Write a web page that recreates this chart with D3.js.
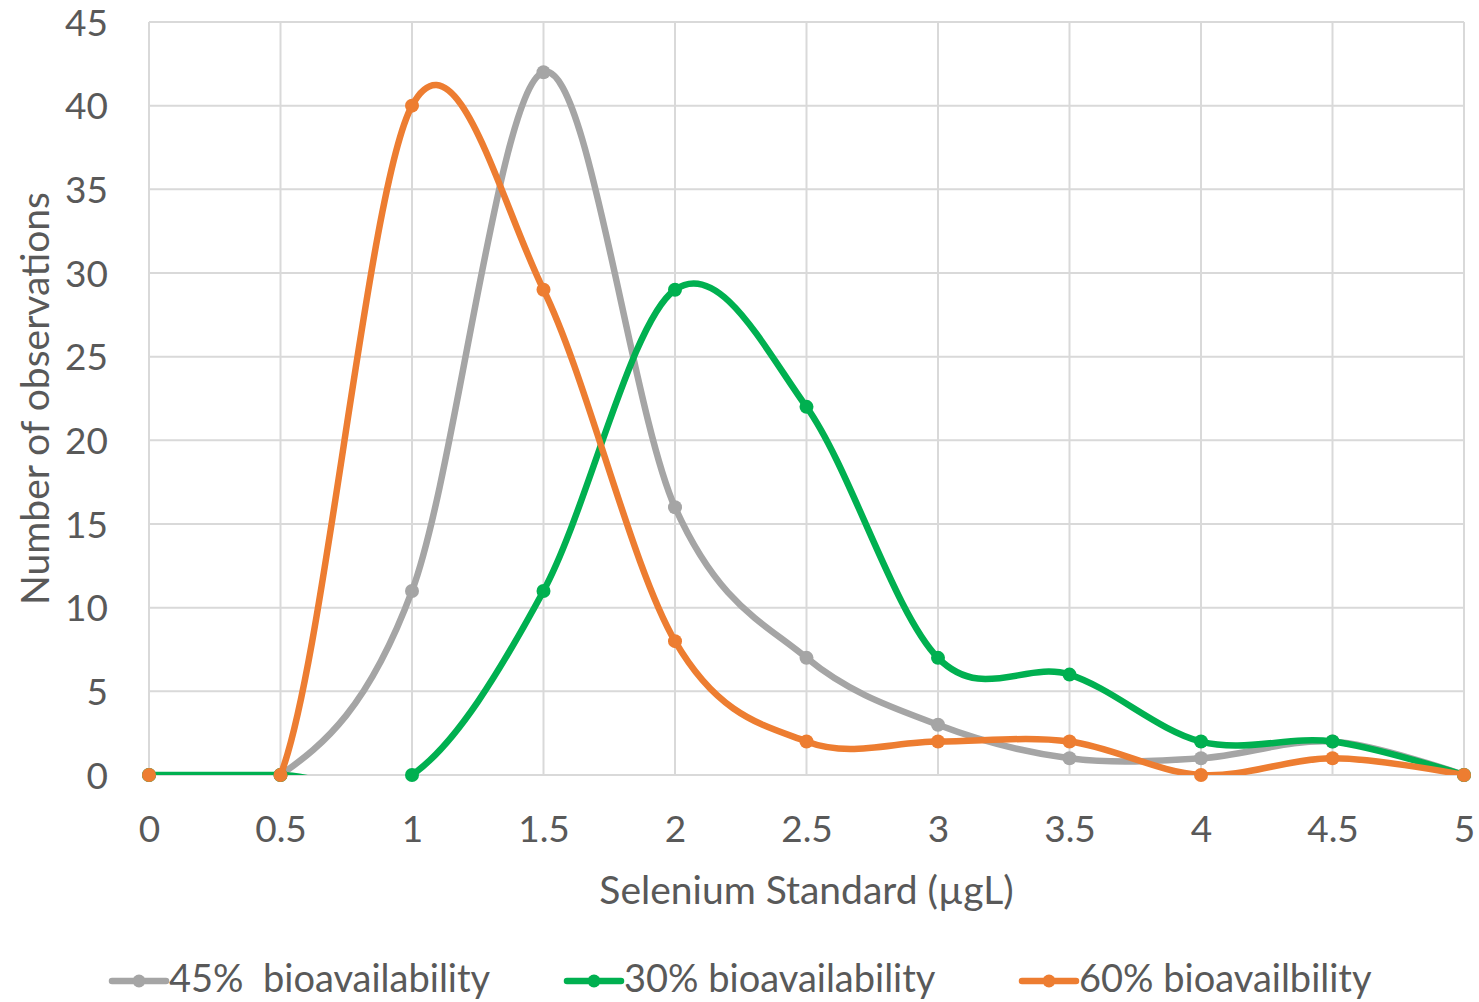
<!DOCTYPE html>
<html>
<head>
<meta charset="utf-8">
<script src="https://cdn.jsdelivr.net/npm/d3@7"></script>
<style>
  body { margin: 0; background: #fff; }
  text { font-family: Lato, "Open Sans", sans-serif; fill: #595959; }
</style>
</head>
<body>
<script>
// chart data
let xValues = [0, 0.5, 1, 1.5, 2, 2.5, 3, 3.5, 4, 4.5, 5];
let gray45 = [0, 0, 11, 42, 16, 7, 3, 1, 1, 2, 0];
let green30 = [0, 0, 0, 11, 29, 22, 7, 6, 2, 2, 0];
let orange60 = [0, 0, 40, 29, 8, 2, 2, 2, 0, 1, 0];
let yTicks = [0, 5, 10, 15, 20, 25, 30, 35, 40, 45];
let seriesNames = ['45%  bioavailability', '30% bioavailability', '60% bioavailbility'];
let seriesColors = ['#A5A5A5', '#00B050', '#ED7D31'];

let width = 1479, height = 1002;
let margin = { top: 22, right: 15, bottom: 227, left: 149 };

let svg = d3.select('body').append('svg')
  .attr('width', width)
  .attr('height', height);

let x = d3.scaleLinear()
  .domain([0, 5])
  .range([margin.left, width - margin.right]);

let y = d3.scaleLinear()
  .domain([0, 45])
  .range([height - margin.bottom, margin.top]);

// lines are clipped to the plot area, like Excel does
svg.append('clipPath').attr('id', 'plot')
  .append('rect')
  .attr('x', x(0) - 4).attr('y', y(45) - 4)
  .attr('width', x(5) - x(0) + 8)
  .attr('height', y(0) - y(45) + 4);

// gridlines
svg.append('g')
  .selectAll('line.h')
  .data(yTicks)
  .enter()
  .append('line')
  .attr('x1', x(0)).attr('x2', x(5))
  .attr('y1', d => y(d)).attr('y2', d => y(d))
  .attr('stroke', '#D9D9D9').attr('stroke-width', 2);

svg.append('g')
  .selectAll('line.v')
  .data(xValues)
  .enter()
  .append('line')
  .attr('x1', d => x(d)).attr('x2', d => x(d))
  .attr('y1', y(0)).attr('y2', y(45))
  .attr('stroke', '#D9D9D9').attr('stroke-width', 2);

// axes (labels only)
let yAxis = svg.append('g')
  .attr('transform', `translate(${x(0) - 41},0)`)
  .call(d3.axisLeft(y).tickValues(yTicks).tickSize(0).tickPadding(0));
yAxis.select('.domain').remove();
yAxis.selectAll('text').style('font-size', '37px').attr('fill', '#595959').attr('dy', '0.36em');

let xAxis = svg.append('g')
  .attr('transform', `translate(0,${y(0) + 41})`)
  .call(d3.axisBottom(x).tickValues(xValues).tickSize(0).tickPadding(0).tickFormat(d3.format('')));
xAxis.select('.domain').remove();
xAxis.selectAll('text').style('font-size', '37px').attr('fill', '#595959');

svg.append('text')
  .attr('x', (x(0) + x(5)) / 2)
  .attr('y', 904)
  .attr('text-anchor', 'middle')
  .style('font-size', '39px')
  .text('Selenium Standard (µgL)');

svg.append('text')
  .attr('transform', `translate(49,${(y(0) + y(45)) / 2}) rotate(-90)`)
  .attr('text-anchor', 'middle')
  .style('font-size', '39px')
  .text('Number of observations');

// smooth lines like Excel's
let line = d3.line()
  .x(d => x(d.x))
  .y(d => y(d.y))
  .curve(d3.curveCardinal.tension(0));

function makePoints(values) {
  return xValues.map((v, i) => ({ x: v, y: values[i] }));
}

let all = [
  { pts: makePoints(gray45), color: seriesColors[0] },
  { pts: makePoints(green30), color: seriesColors[1] },
  { pts: makePoints(orange60), color: seriesColors[2] }
];

all.forEach(function(s) {
  let g = svg.append('g');
  g.append('path')
    .attr('d', line(s.pts))
    .attr('clip-path', 'url(#plot)')
    .attr('fill', 'none').attr('stroke', s.color).attr('stroke-width', 6.5)
    .attr('stroke-linecap', 'round');
  g.selectAll('circle')
    .data(s.pts)
    .enter()
    .append('circle')
    .attr('cx', d => x(d.x))
    .attr('cy', d => y(d.y))
    .attr('r', 7)
    .attr('fill', s.color);
});

// legend
let legendX = [112, 567, 1022];
let legend = svg.append('g');
seriesNames.forEach(function(name, i) {
  let lg = legend.append('g').attr('transform', `translate(${legendX[i]},981)`);
  lg.append('line')
    .attr('x1', 0).attr('x2', 54).attr('y1', 0).attr('y2', 0)
    .attr('stroke', seriesColors[i]).attr('stroke-width', 6.5)
    .attr('stroke-linecap', 'round');
  lg.append('circle').attr('cx', 27).attr('cy', 0).attr('r', 6.5).attr('fill', seriesColors[i]);
  lg.append('text')
    .attr('x', 57).attr('y', 11)
    .style('font-size', '38px')
    .style('white-space', 'pre')
    .text(name);
});
</script>
</body>
</html>
